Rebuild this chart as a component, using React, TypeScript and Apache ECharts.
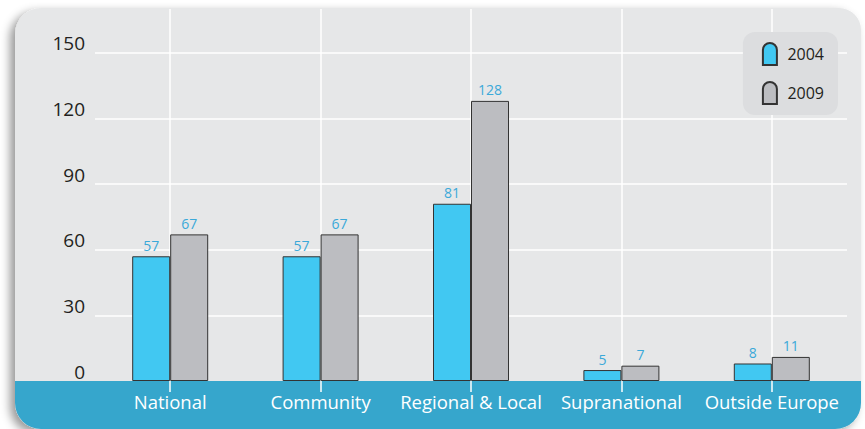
import React, { useEffect, useRef } from 'react';
import * as echarts from 'echarts';

const categories = ['National', 'Community', 'Regional & Local', 'Supranational', 'Outside Europe'];
const series2004 = [57, 57, 81, 5, 8];
const series2009 = [67, 67, 128, 7, 11];
const seriesNames = ['2004', '2009'];

const FONT = '"Open Sans", "Noto Sans", sans-serif';

export default function App() {
  const ref = useRef<HTMLDivElement>(null);
  useEffect(() => {
    document.body.style.margin = '0';
    const chart = echarts.init(ref.current!, null, { renderer: 'svg' });
    const iconPath = 'path://M0,22V7A7,7,0,0,1,14,7V22Z';
    chart.setOption({
      animation: false,
      textStyle: { fontFamily: FONT },
      graphic: [
        {
          type: 'rect',
          z: -20,
          silent: true,
          shape: { x: 15, y: 8, width: 846, height: 421, r: [26, 22, 26, 26] },
          style: {
            fill: '#e6e7e8',
            shadowBlur: 10,
            shadowOffsetX: -5,
            shadowOffsetY: 4,
            shadowColor: 'rgba(0,0,0,0.4)',
          },
        },
        {
          type: 'rect',
          z: -19,
          silent: true,
          shape: { x: 15, y: 381, width: 846, height: 48, r: [0, 0, 26, 26] },
          style: { fill: '#36a6cc' },
        },
      ],
      legend: {
        data: seriesNames,
        orient: 'vertical',
        right: 27,
        top: 32,
        backgroundColor: '#dcdddf',
        borderRadius: 12,
        padding: [10, 14, 10, 19],
        itemGap: 15,
        itemWidth: 15,
        itemHeight: 22,
        icon: iconPath,
        textStyle: { fontSize: 16, color: '#231f20', fontFamily: FONT, padding: [0, 0, 0, 5] },
      },
      grid: { left: 95, right: 18, top: 9, bottom: 48, containLabel: false },
      xAxis: {
        type: 'category',
        data: categories,
        axisLine: { show: false },
        axisTick: { show: true, alignWithLabel: true, length: 11, lineStyle: { color: '#ffffff', width: 1.5 } },
        axisLabel: { color: '#ffffff', fontSize: 18.5, margin: 11, interval: 0, fontFamily: FONT },
        splitLine: { show: false },
      },
      yAxis: {
        type: 'value',
        min: 0,
        max: 170,
        interval: 30,
        axisLine: { show: false },
        axisTick: { show: false },
        axisLabel: {
          color: '#231f20',
          fontSize: 19,
          margin: 10,
          verticalAlign: 'bottom',
          showMaxLabel: false,
          fontFamily: FONT,
        },
        splitLine: { show: true, showMaxLine: false, showMinLine: false, lineStyle: { color: '#ffffff', width: 1.5 } },
      },
      series: [
        {
          type: 'line',
          data: [],
          z: 1,
          silent: true,
          markLine: {
            silent: true,
            z: 1,
            symbol: 'none',
            label: { show: false },
            lineStyle: { color: '#ffffff', width: 1.5, type: 'solid' },
            data: categories.map((c) => ({ xAxis: c })),
          },
        },
        {
          name: seriesNames[0],
          type: 'bar',
          data: series2004,
          barWidth: 38,
          barGap: '0%',
          z: 3,
          itemStyle: { color: '#41c8f2', borderColor: '#333333', borderWidth: 1 },
          label: { show: true, position: 'top', distance: 4, color: '#3ba9d9', fontSize: 14, fontFamily: FONT },
        },
        {
          name: seriesNames[1],
          type: 'bar',
          data: series2009,
          barWidth: 38,
          barGap: '0%',
          z: 3,
          itemStyle: { color: '#bcbdc1', borderColor: '#333333', borderWidth: 1 },
          label: { show: true, position: 'top', distance: 4, color: '#3ba9d9', fontSize: 14, fontFamily: FONT },
        },
      ],
    });
    return () => chart.dispose();
  }, []);
  return <div ref={ref} style={{ position: 'absolute', left: 0, top: 0, width: 865, height: 429 }} />;
}
